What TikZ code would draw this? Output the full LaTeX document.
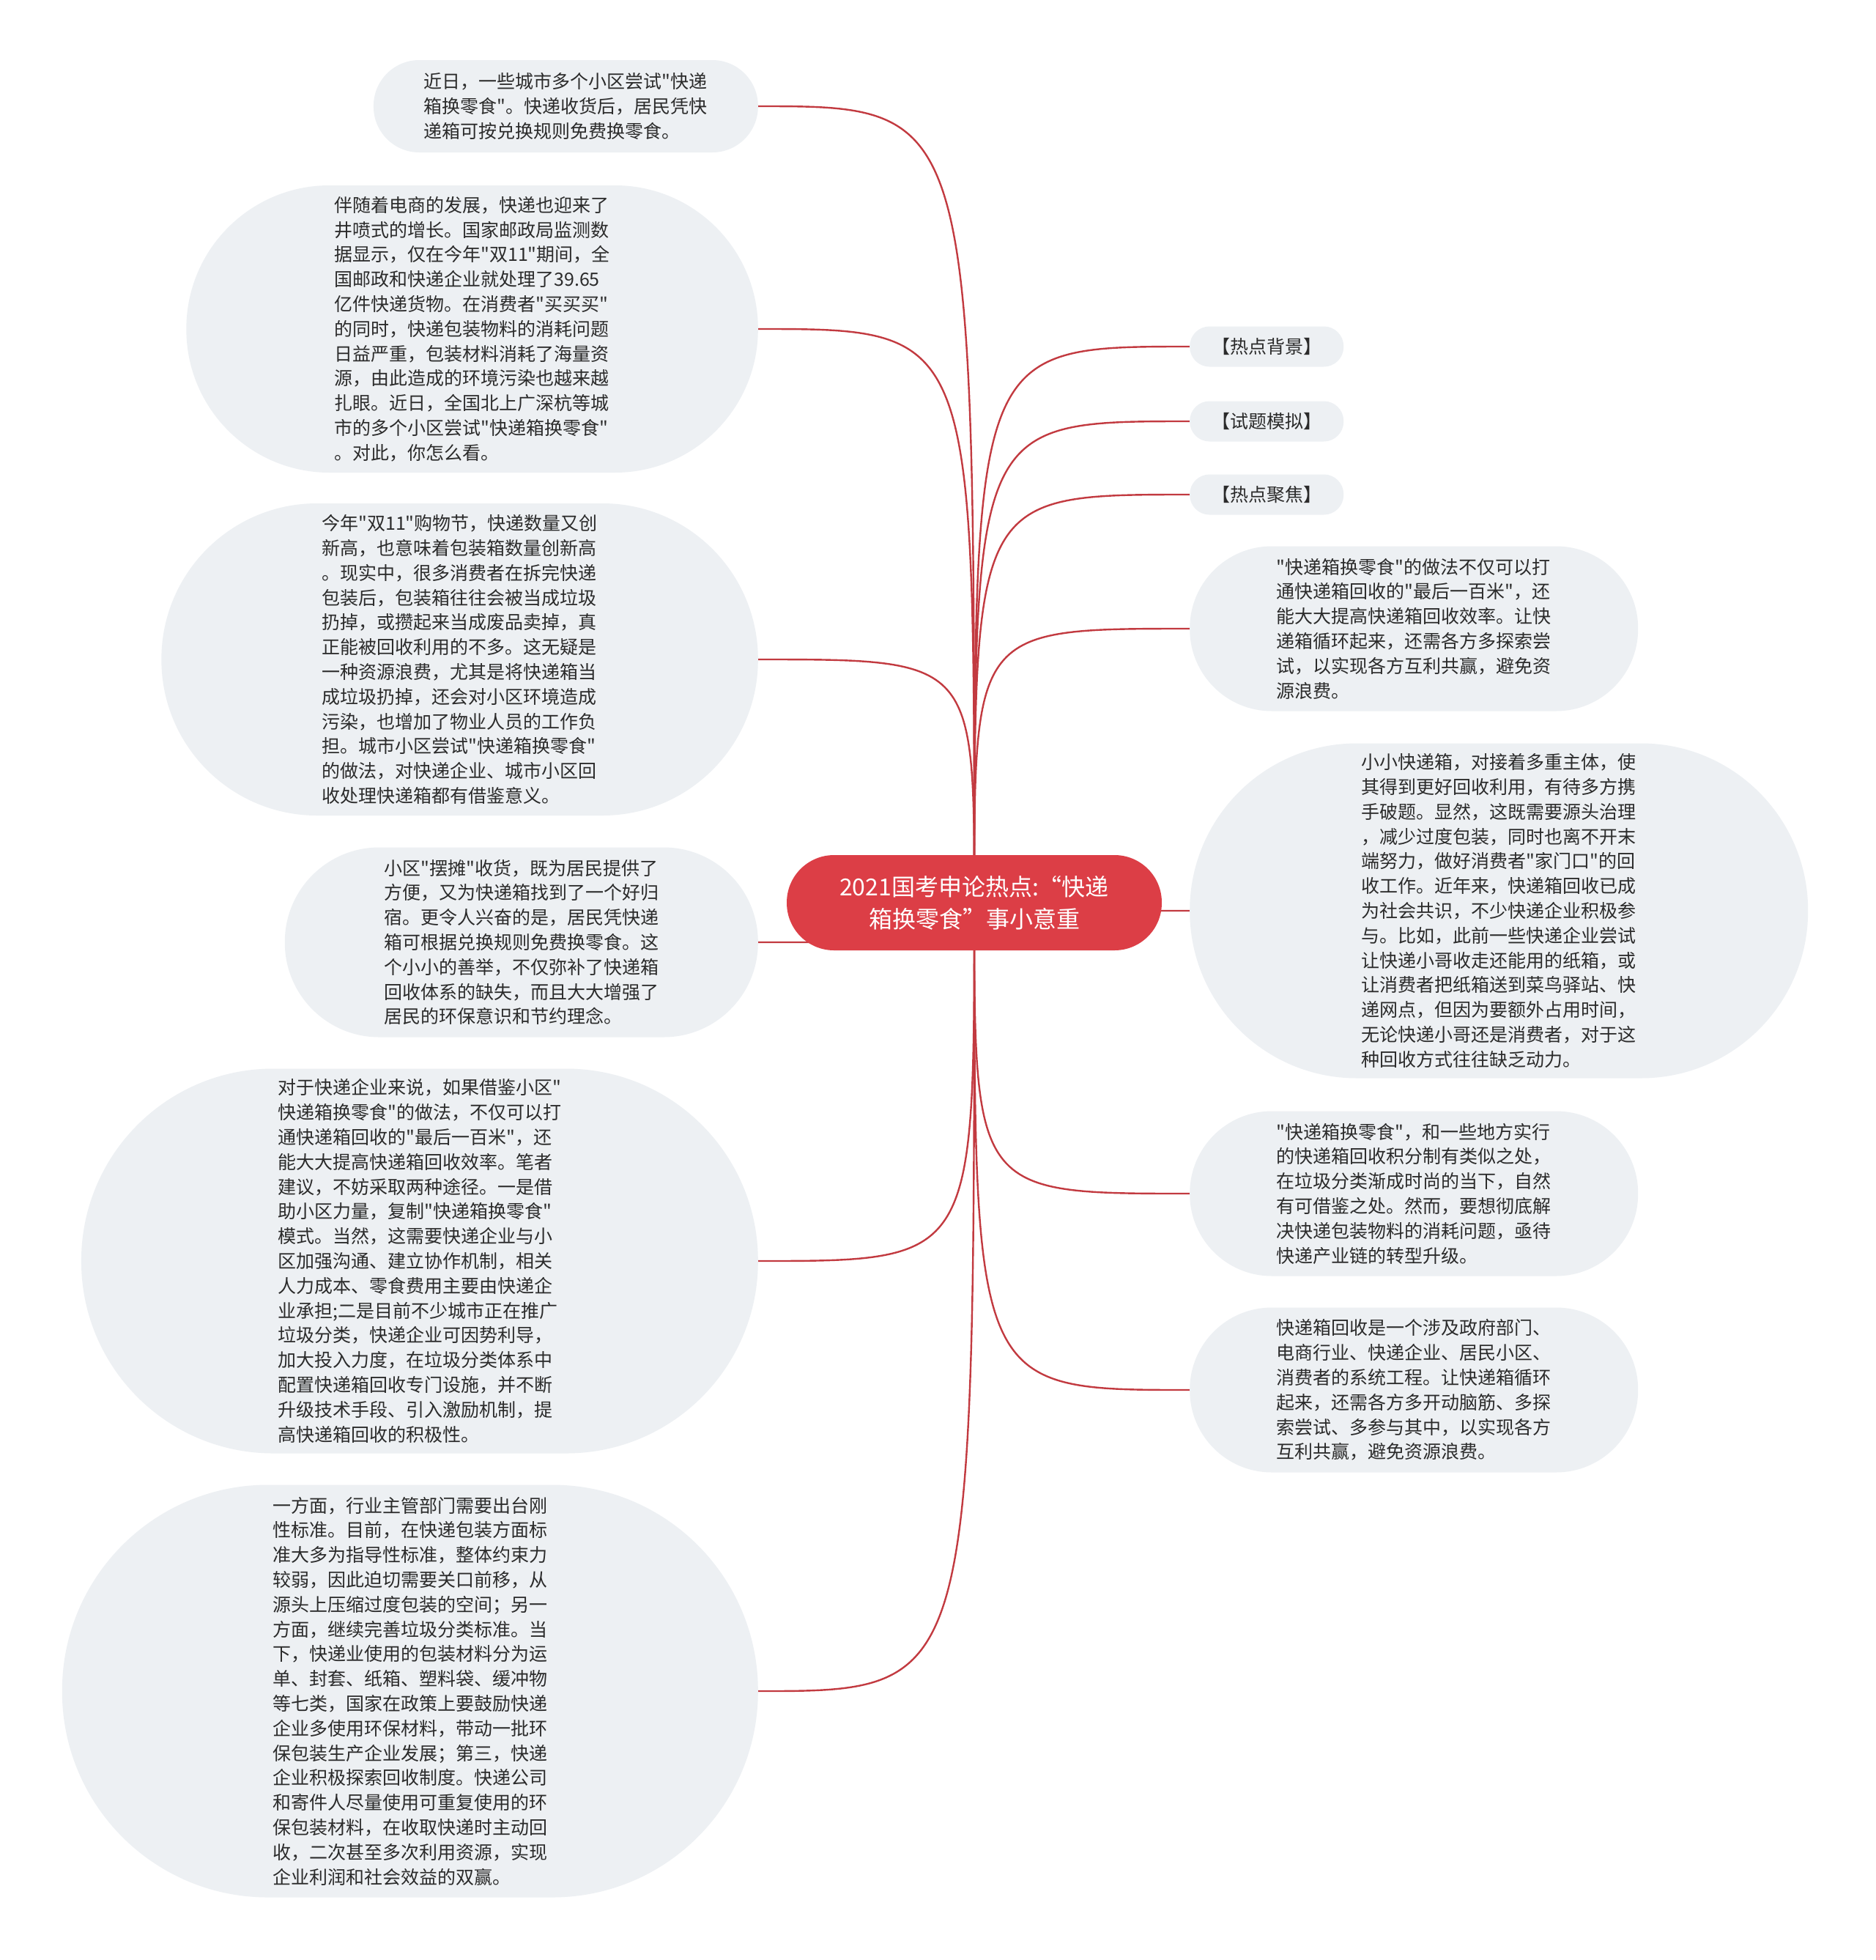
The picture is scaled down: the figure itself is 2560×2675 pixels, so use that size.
\documentclass[tikz,border=0pt]{standalone}
\usepackage{fontspec}
\usepackage{xcolor}
\usetikzlibrary{positioning, backgrounds}
\newfontfamily\cjk{Noto Sans CJK SC}
\definecolor{bubble}{HTML}{EDF0F3}
\definecolor{rootred}{HTML}{DC3E46}
\definecolor{linkred}{HTML}{C23A40}
\definecolor{ink}{HTML}{2B2B2B}

\tikzset{
  pill/.code={%
    \pgfmathsetmacro\pillr{#1/2-0.5}%
    \pgfmathsetmacro\pillx{#1/2+6}%
    \edef\pilltmp{\noexpand\tikzset{rectangle, rounded corners=\pillr pt,
      minimum height=#1pt, inner xsep=\pillx pt, inner ysep=0pt}}%
    \pilltmp},
  topic/.style={fill=bubble, text=ink, align=left,
                font=\cjk\fontsize{25}{33.8}\selectfont, pill=#1},
  tag/.style={topic=55, inner xsep=30pt},
  root/.style={fill=rootred, text=white, align=center, pill=130,
               inner xsep=72pt, font=\cjk\fontsize{32}{44}\selectfont},
  link/.style={draw=linkred, line width=2.4pt}
}

\begin{document}
\begin{tikzpicture}[x=1pt, y=-1pt]
  \useasboundingbox (0,0) rectangle (2560,2675);

  \node[root] (root) at (1330,1232) {2021国考申论热点:“快递\\箱换零食”事小意重};

  % left side
  \node[topic=126, anchor=east] (near) at (1035,145) {%
    近日，一些城市多个小区尝试"快递\\
    箱换零食"。快递收货后，居民凭快\\
    递箱可按兑换规则免费换零食。};
  \node[topic=392, anchor=east] (boom) at (1035,449) {%
    伴随着电商的发展，快递也迎来了\\
    井喷式的增长。国家邮政局监测数\\
    据显示，仅在今年"双11"期间，全\\
    国邮政和快递企业就处理了39.65\\
    亿件快递货物。在消费者"买买买"\\
    的同时，快递包装物料的消耗问题\\
    日益严重，包装材料消耗了海量资\\
    源，由此造成的环境污染也越来越\\
    扎眼。近日，全国北上广深杭等城\\
    市的多个小区尝试"快递箱换零食"\\
    。对此，你怎么看。};
  \node[topic=426, anchor=east] (double) at (1035,900) {%
    今年"双11"购物节，快递数量又创\\
    新高，也意味着包装箱数量创新高\\
    。现实中，很多消费者在拆完快递\\
    包装后，包装箱往往会被当成垃圾\\
    扔掉，或攒起来当成废品卖掉，真\\
    正能被回收利用的不多。这无疑是\\
    一种资源浪费，尤其是将快递箱当\\
    成垃圾扔掉，还会对小区环境造成\\
    污染，也增加了物业人员的工作负\\
    担。城市小区尝试"快递箱换零食"\\
    的做法，对快递企业、城市小区回\\
    收处理快递箱都有借鉴意义。};
  \node[topic=259, anchor=east] (stall) at (1035,1286) {%
    小区"摆摊"收货，既为居民提供了\\
    方便，又为快递箱找到了一个好归\\
    宿。更令人兴奋的是，居民凭快递\\
    箱可根据兑换规则免费换零食。这\\
    个小小的善举，不仅弥补了快递箱\\
    回收体系的缺失，而且大大增强了\\
    居民的环保意识和节约理念。};
  \node[topic=525, anchor=east] (company) at (1035,1721) {%
    对于快递企业来说，如果借鉴小区"\\
    快递箱换零食"的做法，不仅可以打\\
    通快递箱回收的"最后一百米"，还\\
    能大大提高快递箱回收效率。笔者\\
    建议，不妨采取两种途径。一是借\\
    助小区力量，复制"快递箱换零食"\\
    模式。当然，这需要快递企业与小\\
    区加强沟通、建立协作机制，相关\\
    人力成本、零食费用主要由快递企\\
    业承担;二是目前不少城市正在推广\\
    垃圾分类，快递企业可因势利导，\\
    加大投入力度，在垃圾分类体系中\\
    配置快递箱回收专门设施，并不断\\
    升级技术手段、引入激励机制，提\\
    高快递箱回收的积极性。};
  \node[topic=563, anchor=east] (policy) at (1035,2308) {%
    一方面，行业主管部门需要出台刚\\
    性标准。目前，在快递包装方面标\\
    准大多为指导性标准，整体约束力\\
    较弱，因此迫切需要关口前移，从\\
    源头上压缩过度包装的空间；另一\\
    方面，继续完善垃圾分类标准。当\\
    下，快递业使用的包装材料分为运\\
    单、封套、纸箱、塑料袋、缓冲物\\
    等七类，国家在政策上要鼓励快递\\
    企业多使用环保材料，带动一批环\\
    保包装生产企业发展；第三，快递\\
    企业积极探索回收制度。快递公司\\
    和寄件人尽量使用可重复使用的环\\
    保包装材料，在收取快递时主动回\\
    收，二次甚至多次利用资源，实现\\
    企业利润和社会效益的双赢。};

  % right side
  \node[tag, anchor=west] (bgtag) at (1624,473) {【热点背景】};
  \node[tag, anchor=west] (simtag) at (1624,575) {【试题模拟】};
  \node[tag, anchor=west] (focustag) at (1624,675) {【热点聚焦】};
  \node[topic=225, anchor=west] (reuse) at (1624,858) {%
    "快递箱换零食"的做法不仅可以打\\
    通快递箱回收的"最后一百米"，还\\
    能大大提高快递箱回收效率。让快\\
    递箱循环起来，还需各方多探索尝\\
    试，以实现各方互利共赢，避免资\\
    源浪费。};
  \node[topic=457, anchor=west] (parties) at (1624,1243) {%
    小小快递箱，对接着多重主体，使\\
    其得到更好回收利用，有待多方携\\
    手破题。显然，这既需要源头治理\\
    ，减少过度包装，同时也离不开末\\
    端努力，做好消费者"家门口"的回\\
    收工作。近年来，快递箱回收已成\\
    为社会共识，不少快递企业积极参\\
    与。比如，此前一些快递企业尝试\\
    让快递小哥收走还能用的纸箱，或\\
    让消费者把纸箱送到菜鸟驿站、快\\
    递网点，但因为要额外占用时间，\\
    无论快递小哥还是消费者，对于这\\
    种回收方式往往缺乏动力。};
  \node[topic=225, anchor=west] (points) at (1624,1629) {%
    "快递箱换零食"，和一些地方实行\\
    的快递箱回收积分制有类似之处，\\
    在垃圾分类渐成时尚的当下，自然\\
    有可借鉴之处。然而，要想彻底解\\
    决快递包装物料的消耗问题，亟待\\
    快递产业链的转型升级。};
  \node[topic=225, anchor=west] (system) at (1624,1897) {%
    快递箱回收是一个涉及政府部门、\\
    电商行业、快递企业、居民小区、\\
    消费者的系统工程。让快递箱循环\\
    起来，还需各方多开动脑筋、多探\\
    索尝试、多参与其中，以实现各方\\
    互利共赢，避免资源浪费。};

  \begin{scope}[on background layer]
    \fill[white] (0,0) rectangle (2560,2675);
    \foreach \n in {near, boom, double, stall, company, policy}
      \draw[link] (root.center) .. controls (root.center |- \n.east) .. (\n.east);
    \foreach \n in {bgtag, simtag, focustag, reuse, parties, points, system}
      \draw[link] (root.center) .. controls (root.center |- \n.west) .. (\n.west);
  \end{scope}
\end{tikzpicture}
\end{document}
